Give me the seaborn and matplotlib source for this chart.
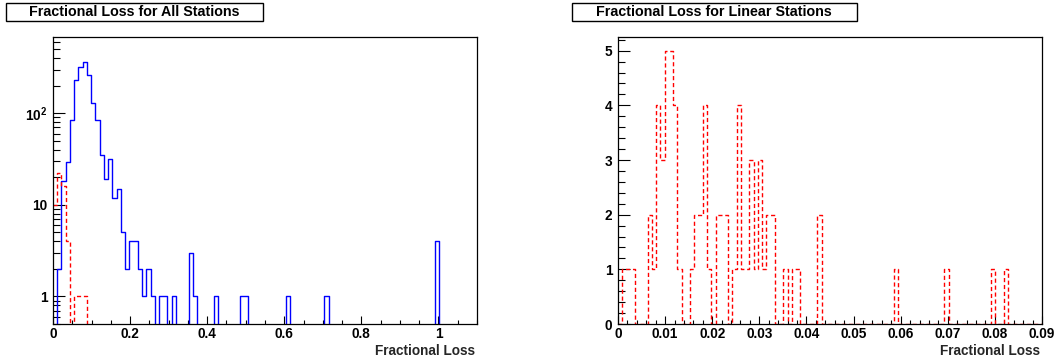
import numpy as np
import pandas as pd
import matplotlib
matplotlib.use("Agg")
import matplotlib.pyplot as plt
from matplotlib.patches import Rectangle
from matplotlib.ticker import MultipleLocator, LogLocator, NullFormatter
import seaborn as sns

# ---------------- data (bin centres) ----------------
# All stations, bins of width 0.011 on [0, 1.1]
all_loss = [0.0165, 0.0275, 0.0385, 0.0495, 0.0605, 0.0715, 0.0825, 0.0935,
            0.1045, 0.1155, 0.1265, 0.1375, 0.1485, 0.1595, 0.1705, 0.1815,
            0.1925, 0.2035, 0.2145, 0.2255, 0.2365, 0.2475, 0.2585, 0.2805,
            0.2915, 0.3135, 0.3575, 0.3685, 0.4235, 0.4895, 0.5005, 0.6105,
            0.7095, 0.9955]
all_counts = [2, 18, 29, 85, 231, 323, 360, 262,
              129, 85, 35, 19, 32, 12, 15, 5,
              2, 4, 4, 2, 1, 2, 1, 1,
              1, 1, 3, 1, 1, 1, 1, 1,
              1, 4]

# Linear stations on the same coarse binning
lin_loss_coarse = [0.0055, 0.0165, 0.0275, 0.0385, 0.0605, 0.0715, 0.0825]
lin_counts_coarse = [10, 22, 16, 4, 1, 1, 1]

# Linear stations, bins of width 0.0009 on [0, 0.09]
lin_loss_fine = [0.00135, 0.00225, 0.00315, 0.00675, 0.00765, 0.00855, 0.00945,
                 0.01035, 0.01125, 0.01215, 0.01305, 0.01575, 0.01665, 0.01755,
                 0.01845, 0.01935, 0.02115, 0.02205, 0.02295, 0.02475, 0.02565,
                 0.02655, 0.02745, 0.02835, 0.02925, 0.03015, 0.03105, 0.03195,
                 0.03285, 0.03555, 0.03735, 0.03825, 0.04275, 0.05895, 0.06975,
                 0.07965, 0.08235]
lin_counts_fine = [1, 1, 1, 2, 1, 4, 3,
                   5, 5, 4, 1, 1, 2, 2,
                   4, 1, 2, 2, 2, 1, 4,
                   1, 1, 3, 1, 3, 1, 2,
                   2, 1, 1, 1, 2, 1, 1,
                   1, 1]

left_title = "Fractional Loss for All Stations"
right_title = "Fractional Loss for Linear Stations"
x_label = "Fractional Loss"

left_xticks = [0, 0.2, 0.4, 0.6, 0.8, 1.0]
left_xticklabels = ["0", "0.2", "0.4", "0.6", "0.8", "1"]
left_yticks = [1, 10, 100]
left_yticklabels = ["1", "10", r"$\mathbf{10^{2}}$"]
right_xticks = [0, 0.01, 0.02, 0.03, 0.04, 0.05, 0.06, 0.07, 0.08, 0.09]
right_xticklabels = ["0", "0.01", "0.02", "0.03", "0.04", "0.05", "0.06",
                     "0.07", "0.08", "0.09"]
right_yticks = [0, 1, 2, 3, 4, 5]
right_yticklabels = ["0", "1", "2", "3", "4", "5"]

coarse_edges = [round(i * 0.011, 6) for i in range(101)]
fine_edges = [round(i * 0.0009, 7) for i in range(101)]

df_all = pd.DataFrame({"loss": all_loss, "count": all_counts})
df_lin_c = pd.DataFrame({"loss": lin_loss_coarse, "count": lin_counts_coarse})
df_lin_f = pd.DataFrame({"loss": lin_loss_fine, "count": lin_counts_fine})

# ---------------- style ----------------
sns.set_theme(style="white")
plt.rcParams["font.family"] = ["Liberation Sans", "DejaVu Sans"]
plt.rcParams["font.weight"] = "bold"
plt.rcParams["mathtext.fontset"] = "custom"
plt.rcParams["mathtext.bf"] = "Liberation Sans:bold"
plt.rcParams["mathtext.rm"] = "Liberation Sans:bold"

W, H = 1060, 362
fig = plt.figure(figsize=(W / 100, H / 100), dpi=100)
fig.patch.set_facecolor("white")

ax_l, ax_r = 53, 618
ax_w = 424
ax_top, ax_bot = 37, 324
ax1 = fig.add_axes([ax_l / W, (H - ax_bot) / H, ax_w / W, (ax_bot - ax_top) / H])
ax2 = fig.add_axes([ax_r / W, (H - ax_bot) / H, ax_w / W, (ax_bot - ax_top) / H])

dash = (0, (3, 2))
tick_fs = 9.8

# ---------------- left panel ----------------
sns.histplot(data=df_all, x="loss", weights="count", bins=coarse_edges,
             element="step", fill=False, color="#0000ff", linewidth=1.0, ax=ax1)
sns.histplot(data=df_lin_c, x="loss", weights="count", bins=coarse_edges,
             element="step", fill=False, color="#ff0000", linewidth=1.0,
             linestyle=dash, ax=ax1)
ax1.set_yscale("log")
ax1.set_xlim(0, 1.1)
ax1.set_ylim(0.5, 680)
ax1.set_xticks(left_xticks, left_xticklabels, fontsize=tick_fs, fontweight="bold")
ax1.xaxis.set_minor_locator(MultipleLocator(0.05))
ax1.set_yticks(left_yticks, left_yticklabels, fontsize=tick_fs, fontweight="bold")
ax1.yaxis.set_minor_locator(LogLocator(base=10, subs=np.arange(2, 10), numticks=30))
ax1.yaxis.set_minor_formatter(NullFormatter())

# ---------------- right panel ----------------
sns.histplot(data=df_lin_f, x="loss", weights="count", bins=fine_edges,
             element="step", fill=False, color="#ff0000", linewidth=1.0,
             linestyle=dash, ax=ax2)
ax2.set_xlim(0, 0.09)
ax2.set_ylim(0, 5.25)
ax2.set_xticks(right_xticks, right_xticklabels, fontsize=tick_fs, fontweight="bold")
ax2.xaxis.set_minor_locator(MultipleLocator(0.002))
ax2.set_yticks(right_yticks, right_yticklabels, fontsize=tick_fs, fontweight="bold")
ax2.yaxis.set_minor_locator(MultipleLocator(0.2))

for ax in (ax1, ax2):
    ax.set_ylabel("")
    ax.set_xlabel(x_label, fontsize=9.8, fontweight="bold", loc="right")
    ax.xaxis.label.set_verticalalignment("baseline")
    ax.xaxis.set_label_coords(0.995, -0.108)
    for s in ax.spines.values():
        s.set_visible(True)
        s.set_color("black")
        s.set_linewidth(0.9)
    ax.tick_params(axis="both", which="both", direction="in", bottom=True,
                   left=True, top=False, right=False, colors="black", width=0.8)
    ax.tick_params(axis="x", which="major", length=6, pad=2.5)
    ax.tick_params(axis="x", which="minor", length=3)
    ax.tick_params(axis="y", which="major", length=8.5, pad=4)
    ax.tick_params(axis="y", which="minor", length=5)
    ax.set_facecolor("white")

# ---------------- title boxes ----------------
for (x0, x1, title) in [(6, 263, left_title), (571.5, 856.5, right_title)]:
    fig.patches.append(Rectangle((x0 / W, 1 - 21 / H), (x1 - x0) / W, 17.5 / H,
                                 transform=fig.transFigure, facecolor="white",
                                 edgecolor="black", linewidth=1.0))
    fig.text((x0 + x1) / 2 / W, 1 - 12.3 / H, title, ha="center", va="center",
             fontsize=10.3, fontweight="bold", color="black")

fig.savefig("out.png", dpi=100)
